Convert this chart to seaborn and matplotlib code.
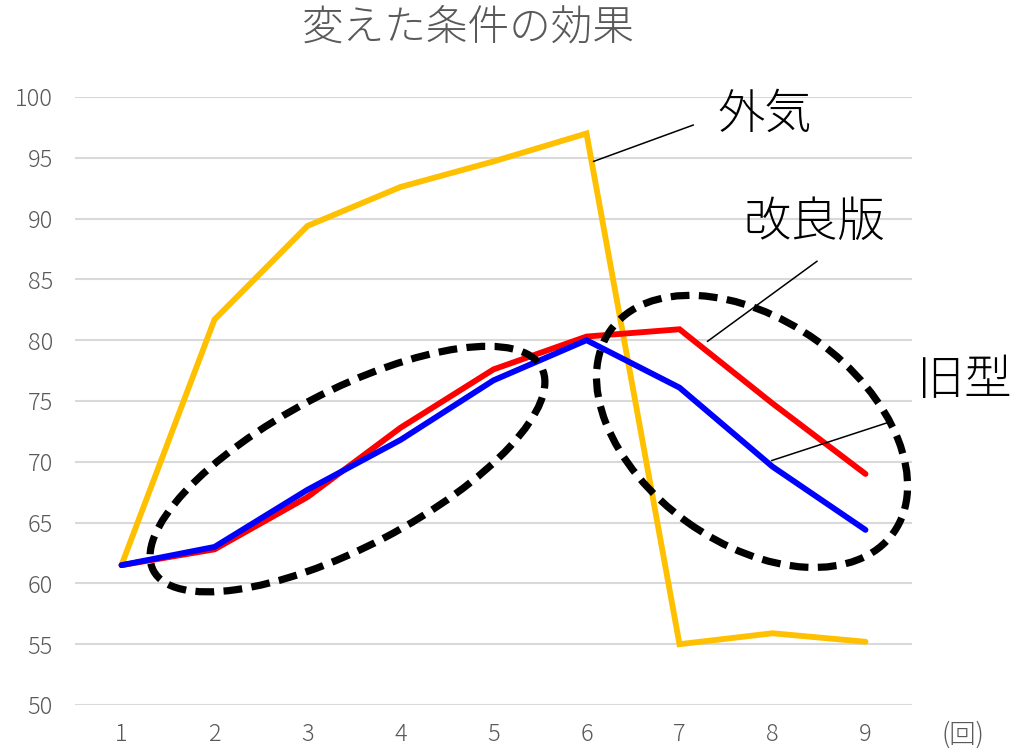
import numpy as np
import pandas as pd
import matplotlib
matplotlib.use("Agg")
import matplotlib.pyplot as plt
import matplotlib.transforms as mtransforms
from matplotlib.patches import Ellipse
import seaborn as sns

# 試行回数と各条件の測定値
rounds = [1, 2, 3, 4, 5, 6, 7, 8, 9]
outside_air = [61.5, 81.7, 89.4, 92.6, 94.7, 97.0, 55.0, 55.9, 55.2]
improved = [61.5, 62.8, 67.1, 72.8, 77.6, 80.3, 80.9, 74.8, 69.0]
old_model = [61.5, 63.0, 67.7, 71.8, 76.7, 80.0, 76.1, 69.6, 64.4]
series_names = ["外気", "改良版", "旧型"]
series_colors = ["#FFC000", "#FF0000", "#0000FF"]
y_ticks = [50, 55, 60, 65, 70, 75, 80, 85, 90, 95, 100]

df = pd.DataFrame({
    "回": rounds * 3,
    "値": outside_air + improved + old_model,
    "系列": [n for n in series_names for _ in rounds],
})

sns.set_style("white")
plt.rcParams["font.family"] = ["Noto Sans CJK JP", "DejaVu Sans"]

fig = plt.figure(figsize=(10.10, 7.48), dpi=100)
ax = fig.add_axes([75 / 1010, 1 - 705 / 748, (912 - 75) / 1010, (705 - 97) / 748])

# 目盛線
for v in y_ticks:
    ax.axhline(v, color="#D9D9D9", lw=1.5, zorder=0)

sns.lineplot(data=df, x="回", y="値", hue="系列", hue_order=series_names,
             palette=series_colors, linewidth=4.2, legend=False, ax=ax,
             zorder=3)
for ln in ax.lines[len(y_ticks):]:
    ln.set_solid_capstyle("round")
    ln.set_solid_joinstyle("miter")

ax.set_xlim(0.5, 9.5)
ax.set_ylim(50, 100)
ax.set_xticks(rounds)
ax.set_yticks(y_ticks)
ax.set_xlabel("")
ax.set_ylabel("")
for s in ax.spines.values():
    s.set_visible(False)
ax.tick_params(axis="both", length=0, colors="#595959", labelsize=17)
ax.tick_params(axis="x", pad=12)
ax.tick_params(axis="y", pad=16)
for lab in ax.get_xticklabels() + ax.get_yticklabels():
    lab.set_fontweight("light")

# 注目範囲を示す破線の楕円
def dashed_ellipse(cx, cy, w_in, h_in, angle):
    trans = fig.dpi_scale_trans + mtransforms.ScaledTranslation(cx, cy, ax.transData)
    e = Ellipse((0, 0), w_in, h_in, angle=angle, transform=trans,
                fill=False, edgecolor="black", lw=5.2,
                linestyle=(0, (2.6, 1.3)), zorder=5, clip_on=False)
    e.set_capstyle("butt")
    ax.add_patch(e)

dashed_ellipse(3.43, 69.4, 4.38, 1.56, 27.6)
dashed_ellipse(7.78, 72.5, 3.48, 2.23, -35.7)

# 系列名と引き出し線
line_kw = dict(annotation_clip=False, zorder=6,
               arrowprops=dict(arrowstyle="-", color="black", lw=1.1,
                               shrinkA=0, shrinkB=0))
text_kw = dict(fontsize=34, fontweight="light", ha="center", va="center",
               color="black", clip_on=False)
ax.annotate("", xy=(6.075, 94.7), xytext=(7.15, 97.7), **line_kw)
ax.text(7.92, 98.6, "外気", **text_kw)
ax.annotate("", xy=(7.30, 79.9), xytext=(8.48, 86.5), **line_kw)
ax.text(8.45, 89.7, "改良版", **text_kw)
ax.annotate("", xy=(7.99, 70.1), xytext=(9.23, 73.2), **line_kw)
ax.text(10.06, 76.7, "旧型", **text_kw)

fig.text(468 / 1010, 1 - 28 / 748, "変えた条件の効果", fontsize=30,
         fontweight="light", color="#595959", ha="center", va="center")
fig.text(963 / 1010, 1 - 735 / 748, "(回)", fontsize=19, fontweight="light",
         color="#595959", ha="center", va="center")

fig.savefig("out.png", dpi=100, facecolor="white")
